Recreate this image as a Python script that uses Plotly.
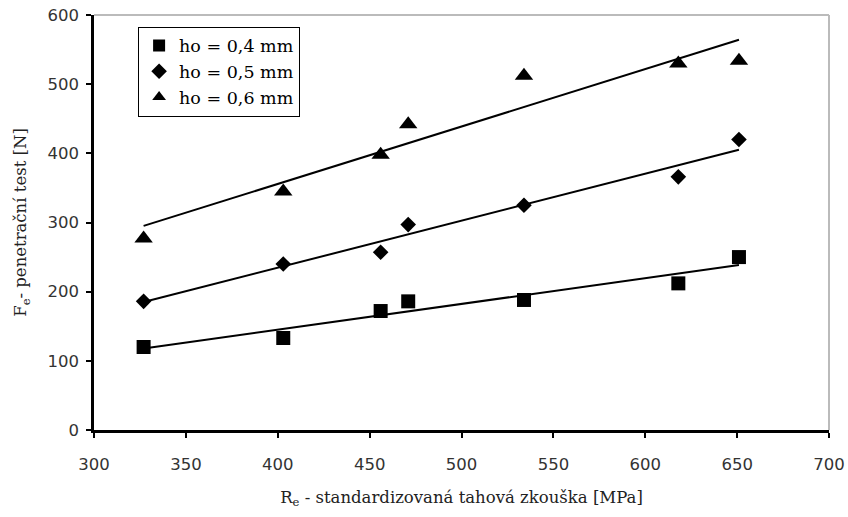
import numpy as np
import plotly.graph_objects as go

x_vals = [327, 403, 456, 471, 534, 618, 651]
y_04 = [120, 133, 172, 186, 188, 212, 250]
y_05 = [186, 240, 257, 297, 325, 366, 420]
y_06 = [277, 345, 398, 442, 512, 530, 534]

series = [
    ("ho = 0,4 mm", y_04, "square", 14),
    ("ho = 0,5 mm", y_05, "diamond", 12),
    ("ho = 0,6 mm", y_06, "triangle-up", 16),
]

fig = go.Figure()
xs = np.array(x_vals, dtype=float)
for name, ys, sym, size in series:
    fig.add_trace(go.Scatter(
        x=x_vals, y=ys, mode="markers", name=name,
        marker=dict(symbol=sym, size=size, color="black"),
    ))
for name, ys, sym, size in series:
    k, q = np.polyfit(xs, np.array(ys, dtype=float), 1)
    lx = [xs.min(), xs.max()]
    fig.add_trace(go.Scatter(
        x=lx, y=[k * v + q for v in lx], mode="lines", showlegend=False,
        line=dict(color="black", width=2), hoverinfo="skip",
    ))

tickfont = dict(family="DejaVu Sans", size=16.5, color="#333")
titlefont = dict(family="DejaVu Serif", size=16.5, color="#222")

fig.update_layout(
    width=848, height=517,
    margin=dict(l=94, r=19, t=15, b=87, autoexpand=False),
    paper_bgcolor="white", plot_bgcolor="white",
    showlegend=True,
    legend=dict(
        x=0.06, y=0.972, xanchor="left", yanchor="top",
        bordercolor="black", borderwidth=1, bgcolor="white",
        font=dict(family="DejaVu Serif", size=17.5, color="black"),
        itemsizing="constant", tracegroupgap=0, itemwidth=30,
    ),
    xaxis=dict(
        range=[300, 700], dtick=50, tick0=300, showgrid=False, zeroline=False,
        showline=True, linecolor="black", linewidth=2.5, automargin=True,
        ticks="outside", ticklen=5, tickwidth=2, tickcolor="black",
        ticklabelstandoff=12,
        tickfont=tickfont,
        title=dict(text="R<sub>e</sub> - standardizovaná tahová zkouška [MPa]",
                   font=titlefont, standoff=19),
    ),
    yaxis=dict(
        range=[0, 600], dtick=100, showgrid=False, zeroline=False,
        showline=True, linecolor="black", linewidth=2.5, automargin=True,
        ticks="outside", ticklen=5, tickwidth=2, tickcolor="black",
        ticklabelstandoff=4,
        tickfont=tickfont,
        title=dict(text="F<sub>e</sub>- penetrační test [N]",
                   font=titlefont, standoff=17),
    ),
    shapes=[
        dict(type="line", xref="paper", yref="paper", x0=0, x1=1, y0=1, y1=1,
             line=dict(color="#bbbbbb", width=2)),
        dict(type="line", xref="paper", yref="paper", x0=1, x1=1, y0=0, y1=1,
             line=dict(color="#bbbbbb", width=2)),
    ],
)

fig.write_html("out.html")
